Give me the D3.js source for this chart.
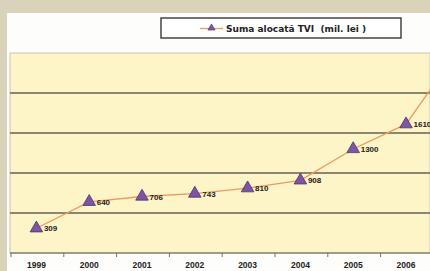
<!DOCTYPE html>
<html>
<head>
<meta charset="utf-8">
<script src="https://cdn.jsdelivr.net/npm/d3@7"></script>
<style>
  body { margin: 0; background: #d9d3bc; }
  svg { display: block; }
</style>
</head>
<body>
<svg id="chart" xmlns="http://www.w3.org/2000/svg"></svg>
<script>
// values (mil. lei); 2007 is cut off at the right edge, estimated
const years = ["1999", "2000", "2001", "2002", "2003", "2004", "2005", "2006", "2007"];
const values = [309, 640, 706, 743, 810, 908, 1300, 1610, 2550];
const yTicks = [0, 500, 1000, 1500, 2000, 2500];
const seriesName = "Suma alocată TVI  (mil. lei )";

const width = 430;
const height = 271;
const plot = { left: 10, top: 53, bottom: 253, step: 52.8 };

const svg = d3.select("#chart").attr("width", width).attr("height", height);

// page background and white panel
svg.append("rect").attr("width", width).attr("height", height).attr("fill", "#d9d3bc");
svg.append("rect").attr("x", 7).attr("y", 13).attr("width", width - 7).attr("height", height - 13).attr("fill", "#fdfdfb");

const x = d3
  .scaleBand()
  .domain(years)
  .range([plot.left, plot.left + plot.step * years.length]);

const y = d3.scaleLinear().domain([0, 2500]).range([plot.bottom, plot.top]);

// plot area
svg
  .append("rect")
  .attr("x", plot.left)
  .attr("y", plot.top)
  .attr("width", width - plot.left)
  .attr("height", plot.bottom - plot.top)
  .attr("fill", "#fdf4c7")
  .attr("stroke", "#c9c5b3")
  .attr("stroke-width", 1);

// gridlines
svg
  .append("g")
  .selectAll("line")
  .data(yTicks.slice(1, -1))
  .enter()
  .append("line")
  .attr("x1", plot.left)
  .attr("x2", width)
  .attr("y1", d => y(d))
  .attr("y2", d => y(d))
  .attr("stroke", "#8a8670")
  .attr("stroke-width", 2);

const cx = d => x(d.year) + x.bandwidth() / 2;
const points = years.map((year, i) => ({ year, value: values[i] }));
// only the categories whose centre is inside the window get labels
const shown = points.filter(d => cx(d) < width);

// x axis: line, ticks between categories, year labels
const xAxis = svg.append("g").attr("transform", `translate(0,${plot.bottom})`);
xAxis
  .append("line")
  .attr("x1", plot.left)
  .attr("x2", width)
  .attr("stroke", "#8a8670")
  .attr("stroke-width", 1.5);
xAxis
  .selectAll(".tick-mark")
  .data(years)
  .enter()
  .append("line")
  .attr("class", "tick-mark")
  .attr("x1", d => x(d) + 1)
  .attr("x2", d => x(d) + 1)
  .attr("y1", 0)
  .attr("y2", 4)
  .attr("stroke", "#777360")
  .attr("stroke-width", 1);

const labelAxis = d3
  .axisBottom(x)
  .tickValues(shown.map(d => d.year))
  .tickSize(0)
  .tickPadding(9);
xAxis
  .append("g")
  .call(labelAxis)
  .call(g => g.select(".domain").remove())
  .selectAll("text")
  .attr("font-family", "'Liberation Sans', Arial, sans-serif")
  .attr("font-weight", "bold")
  .attr("font-size", 8.5)
  .attr("fill", "#222");

// line
const line = d3
  .line()
  .x(cx)
  .y(d => y(d.value));

svg
  .append("path")
  .datum(points)
  .attr("fill", "none")
  .attr("stroke", "#ec9a62")
  .attr("stroke-width", 1.3)
  .attr("d", line);

const tri = d3.symbol().type(d3.symbolTriangle).size(68);

svg
  .selectAll(".dot")
  .data(points)
  .enter()
  .append("path")
  .attr("class", "dot")
  .attr("d", tri)
  .attr("transform", d => `translate(${cx(d)},${y(d.value)})`)
  .attr("fill", "#7d55a6")
  .attr("stroke", "#4a3366")
  .attr("stroke-width", 0.8);

svg
  .selectAll(".val")
  .data(shown)
  .enter()
  .append("text")
  .attr("class", "val")
  .attr("x", d => cx(d) + 7.5)
  .attr("y", d => y(d.value) + 3)
  .attr("font-family", "'Liberation Sans', Arial, sans-serif")
  .attr("font-weight", "bold")
  .attr("font-size", 8)
  .attr("fill", "#222")
  .text(d => d.value);

// legend
const legend = svg.append("g").attr("transform", "translate(161,18)");
legend
  .append("rect")
  .attr("width", 240)
  .attr("height", 20)
  .attr("fill", "#fff")
  .attr("stroke", "#444")
  .attr("stroke-width", 1.5);
legend
  .append("line")
  .attr("x1", 39)
  .attr("x2", 62)
  .attr("y1", 10.5)
  .attr("y2", 10.5)
  .attr("stroke", "#ec9a62")
  .attr("stroke-width", 1.3);
legend
  .append("path")
  .attr("d", d3.symbol().type(d3.symbolTriangle).size(22))
  .attr("transform", "translate(50.5,10)")
  .attr("fill", "#7d55a6")
  .attr("stroke", "#4a3366")
  .attr("stroke-width", 0.6);
legend
  .append("text")
  .attr("x", 65)
  .attr("y", 13.5)
  .attr("font-family", "'DejaVu Sans', Verdana, sans-serif")
  .attr("font-weight", "bold")
  .attr("font-size", 9)
  .attr("fill", "#222")
  .style("white-space", "pre")
  .text(seriesName);
</script>
</body>
</html>
